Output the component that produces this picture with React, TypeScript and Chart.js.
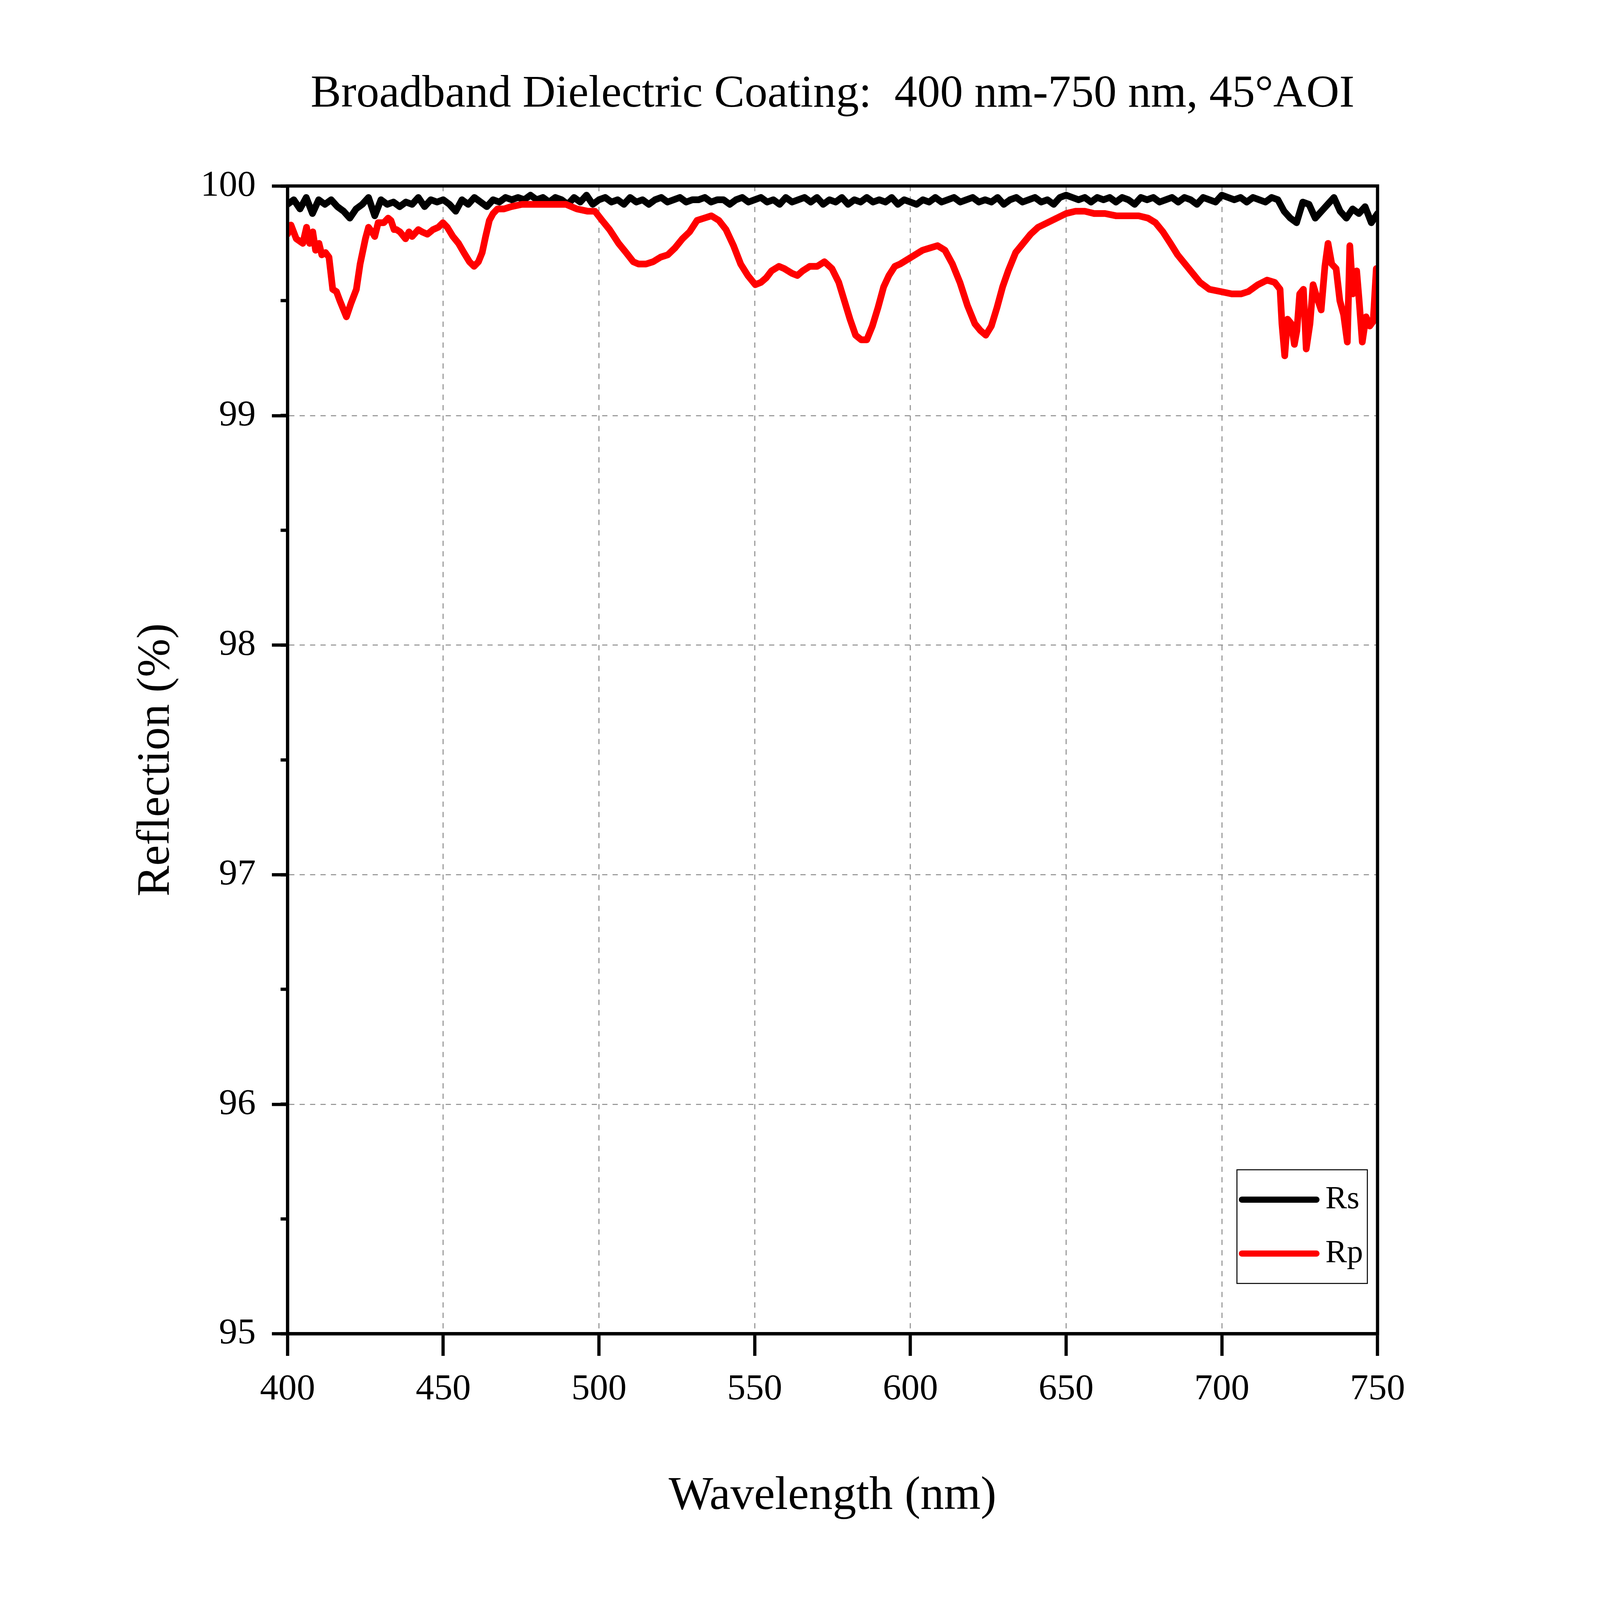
import { useEffect, useRef } from "react"
import { Chart, registerables, type Plugin } from "chart.js"

Chart.register(...registerables)

const chartTitle = "Broadband Dielectric Coating:  400 nm-750 nm, 45°AOI"
const xAxisTitle = "Wavelength (nm)"
const yAxisTitle = "Reflection (%)"
const seriesNames = ["Rs", "Rp"]
const seriesColors = ["#000000", "#ff0000"]

// Rs, every 2 nm
const rsWavelength = [
  400, 402, 404, 406, 408, 410, 412, 414, 416, 418,
  420, 422, 424, 426, 428, 430, 432, 434, 436, 438,
  440, 442, 444, 446, 448, 450, 452, 454, 456, 458,
  460, 462, 464, 466, 468, 470, 472, 474, 476, 478,
  480, 482, 484, 486, 488, 490, 492, 494, 496, 498,
  500, 502, 504, 506, 508, 510, 512, 514, 516, 518,
  520, 522, 524, 526, 528, 530, 532, 534, 536, 538,
  540, 542, 544, 546, 548, 550, 552, 554, 556, 558,
  560, 562, 564, 566, 568, 570, 572, 574, 576, 578,
  580, 582, 584, 586, 588, 590, 592, 594, 596, 598,
  600, 602, 604, 606, 608, 610, 612, 614, 616, 618,
  620, 622, 624, 626, 628, 630, 632, 634, 636, 638,
  640, 642, 644, 646, 648, 650, 652, 654, 656, 658,
  660, 662, 664, 666, 668, 670, 672, 674, 676, 678,
  680, 682, 684, 686, 688, 690, 692, 694, 696, 698,
  700, 702, 704, 706, 708, 710, 712, 714, 716, 718,
  720, 722, 724, 726, 728, 730, 732, 734, 736, 738,
  740, 742, 744, 746, 748, 750,
]
const rsReflection = [
  99.92, 99.94, 99.9, 99.95, 99.88, 99.94, 99.92, 99.94, 99.91, 99.89,
  99.86, 99.9, 99.92, 99.95, 99.87, 99.94, 99.92, 99.93, 99.91, 99.93,
  99.92, 99.95, 99.91, 99.94, 99.93, 99.94, 99.92, 99.89, 99.94, 99.92,
  99.95, 99.93, 99.91, 99.94, 99.93, 99.95, 99.94, 99.95, 99.94, 99.96,
  99.94, 99.95, 99.93, 99.95, 99.94, 99.92, 99.95, 99.93, 99.96, 99.92,
  99.94, 99.95, 99.93, 99.94, 99.92, 99.95, 99.93, 99.94, 99.92, 99.94,
  99.95, 99.93, 99.94, 99.95, 99.93, 99.94, 99.94, 99.95, 99.93, 99.94,
  99.94, 99.92, 99.94, 99.95, 99.93, 99.94, 99.95, 99.93, 99.94, 99.92,
  99.95, 99.93, 99.94, 99.95, 99.93, 99.95, 99.92, 99.94, 99.93, 99.95,
  99.92, 99.94, 99.93, 99.95, 99.93, 99.94, 99.93, 99.95, 99.92, 99.94,
  99.93, 99.92, 99.94, 99.93, 99.95, 99.93, 99.94, 99.95, 99.93, 99.94,
  99.95, 99.93, 99.94, 99.93, 99.95, 99.92, 99.94, 99.95, 99.93, 99.94,
  99.95, 99.93, 99.94, 99.92, 99.95, 99.96, 99.95, 99.94, 99.95, 99.93,
  99.95, 99.94, 99.95, 99.93, 99.95, 99.94, 99.92, 99.95, 99.94, 99.95,
  99.93, 99.94, 99.95, 99.93, 99.95, 99.94, 99.92, 99.95, 99.94, 99.93,
  99.96, 99.95, 99.94, 99.95, 99.93, 99.95, 99.94, 99.93, 99.95, 99.94,
  99.89, 99.86, 99.84, 99.93, 99.92, 99.86, 99.89, 99.92, 99.95, 99.89,
  99.86, 99.9, 99.88, 99.91, 99.84, 99.88,
]

// Rp
const rpWavelength = [
  400, 401.1, 402.8, 404.9, 406.1, 407.1, 408.1, 409, 410.1, 411,
  412.2, 413.3, 414.5, 415.7, 416.8, 418.9, 420.4, 422.1, 423.3, 425,
  426, 427.1, 428, 429.1, 430.9, 432.3, 433.2, 434.2, 435, 436.1,
  437.9, 439, 440, 442, 443.2, 444.9, 446.7, 448.4, 449.9, 451.3,
  453.1, 454.9, 456.6, 458.4, 459.9, 461.3, 462.5, 463.6, 464.8, 466,
  467.4, 469.5, 471.8, 475.3, 480, 483.5, 487, 489.4, 492.9, 496.4,
  498.7, 501, 503.4, 506.3, 508.7, 511, 512.7, 515.1, 517.4, 519.8,
  522.1, 524.4, 526.8, 529.1, 531.5, 533.8, 536.1, 538.5, 540.8, 543.2,
  545.5, 547.8, 550.2, 552, 553.7, 555.4, 557.8, 559.5, 561.9, 563.7,
  565.4, 567.7, 570.1, 572.4, 574.8, 577, 578.8, 580.6, 582.4, 584.2,
  586, 587.8, 589.6, 591.4, 593.1, 595, 596.7, 599.1, 601.5, 603.9,
  606.3, 608.7, 611.1, 613.5, 615.9, 618.3, 620.7, 622.5, 624.2, 626,
  627.8, 629.6, 631.4, 633.8, 636.2, 638.6, 641, 644, 647, 650,
  653, 656, 659, 662.5, 666.1, 669.7, 673.3, 676.3, 678.7, 681.1,
  683.5, 685.8, 688.2, 690.6, 693, 696, 699.6, 703.2, 706.2, 708.5,
  711.6, 714.5, 717, 718.7, 719.3, 720.2, 721.1, 722.3, 723.3, 724.1,
  725, 726.2, 727.1, 728.3, 729.3, 730.4, 731.9, 733.1, 734.1, 735.3,
  736.7, 737.9, 739.1, 740.3, 741.1, 742.1, 743.3, 744.1, 745.1, 746.3,
  747.5, 748.6, 749.6, 750,
]
const rpReflection = [
  99.79, 99.83, 99.77, 99.75, 99.82, 99.75, 99.8, 99.72, 99.75, 99.7,
  99.71, 99.69, 99.55, 99.54, 99.5, 99.43, 99.49, 99.55, 99.66, 99.77,
  99.82, 99.8, 99.78, 99.84, 99.84, 99.86, 99.85, 99.81, 99.81, 99.8,
  99.77, 99.8, 99.78, 99.81, 99.8, 99.79, 99.81, 99.82, 99.84, 99.82,
  99.78, 99.75, 99.71, 99.67, 99.65, 99.67, 99.71, 99.78, 99.85, 99.88,
  99.9, 99.9, 99.91, 99.92, 99.92, 99.92, 99.92, 99.92, 99.9, 99.89,
  99.89, 99.85, 99.81, 99.75, 99.71, 99.67, 99.66, 99.66, 99.67, 99.69,
  99.7, 99.73, 99.77, 99.8, 99.85, 99.86, 99.87, 99.85, 99.81, 99.74,
  99.66, 99.61, 99.57, 99.58, 99.6, 99.63, 99.65, 99.64, 99.62, 99.61,
  99.63, 99.65, 99.65, 99.67, 99.64, 99.58, 99.5, 99.42, 99.35, 99.33,
  99.33, 99.39, 99.47, 99.56, 99.61, 99.65, 99.66, 99.68, 99.7, 99.72,
  99.73, 99.74, 99.72, 99.66, 99.58, 99.48, 99.4, 99.37, 99.35, 99.39,
  99.47, 99.56, 99.63, 99.71, 99.75, 99.79, 99.82, 99.84, 99.86, 99.88,
  99.89, 99.89, 99.88, 99.88, 99.87, 99.87, 99.87, 99.86, 99.84, 99.8,
  99.75, 99.7, 99.66, 99.62, 99.58, 99.55, 99.54, 99.53, 99.53, 99.54,
  99.57, 99.59, 99.58, 99.55, 99.4, 99.26, 99.42, 99.4, 99.31, 99.37,
  99.53, 99.55, 99.29, 99.4, 99.57, 99.52, 99.46, 99.65, 99.75, 99.66,
  99.64, 99.5, 99.44, 99.32, 99.74, 99.53, 99.63, 99.5, 99.32, 99.43,
  99.39, 99.41, 99.64, 99.64,
]

const FONT = "'Liberation Serif', 'Times New Roman', serif"

// sizes below are given for a 6416 x 4907 canvas and scaled to the real one
const BASE_W = 6416
const BASE_H = 4907

export default function App() {
  const boxRef = useRef<HTMLDivElement>(null)
  const canvasRef = useRef<HTMLCanvasElement>(null)

  useEffect(() => {
    if (!canvasRef.current || !boxRef.current) return

    const sx = boxRef.current.clientWidth / BASE_W
    const sy = boxRef.current.clientHeight / BASE_H
    const s = Math.min(sx, sy)

    const rs = rsWavelength.map((x, i) => ({ x, y: rsReflection[i] }))
    const rp = rpWavelength.map((x, i) => ({ x, y: rpReflection[i] }))

    // frame around the plot area (top and right sides included)
    const framePlugin: Plugin = {
      id: "frame",
      afterDraw(chart) {
        const { ctx, chartArea } = chart
        ctx.save()
        ctx.strokeStyle = "#000"
        ctx.lineWidth = 13 * s
        ctx.strokeRect(chartArea.left, chartArea.top, chartArea.right - chartArea.left, chartArea.bottom - chartArea.top)
        ctx.restore()
      },
    }

    // title centred on the plot area rather than the canvas
    const titlePlugin: Plugin = {
      id: "plotTitle",
      afterDraw(chart) {
        const { ctx, chartArea } = chart
        ctx.save()
        ctx.font = `${184 * s}px ${FONT}`
        ctx.fillStyle = "#000"
        ctx.textAlign = "center"
        ctx.textBaseline = "alphabetic"
        ctx.fillText(chartTitle, (chartArea.left + chartArea.right) / 2, chartArea.top - 244 * sy)
        ctx.restore()
      },
    }

    // boxed legend in the lower right corner of the plot
    const legendPlugin: Plugin = {
      id: "insideLegend",
      afterDraw(chart) {
        const { ctx, chartArea } = chart
        const w = 525 * sx
        const h = 350 * sy
        const left = chartArea.right - 41 * sx - w
        const top = chartArea.bottom - 155 * sy - h
        ctx.save()
        ctx.fillStyle = "#fff"
        ctx.fillRect(left, top, w, h)
        ctx.strokeStyle = "#000"
        ctx.lineWidth = 4 * s
        ctx.strokeRect(left, top, w, h)
        ctx.font = `${130 * s}px ${FONT}`
        ctx.textBaseline = "middle"
        ctx.textAlign = "left"
        seriesNames.forEach((name, i) => {
          const y = top + (92 + i * 166) * sy
          ctx.strokeStyle = seriesColors[i]
          ctx.lineWidth = 25 * s
          ctx.lineCap = "round"
          ctx.beginPath()
          ctx.moveTo(left + 20 * sx, y)
          ctx.lineTo(left + 320 * sx, y)
          ctx.stroke()
          ctx.fillStyle = "#000"
          ctx.fillText(name, left + 356 * sx, y)
        })
        ctx.restore()
      },
    }

    const gridColor = "#8c8c8c"

    const chart = new Chart(canvasRef.current, {
      type: "line",
      data: {
        datasets: [
          {
            label: seriesNames[0],
            data: rs,
            borderColor: seriesColors[0],
            borderWidth: 27 * s,
            pointRadius: 0,
            tension: 0,
            borderJoinStyle: "round",
            borderCapStyle: "round",
            order: 1,
          },
          {
            label: seriesNames[1],
            data: rp,
            borderColor: seriesColors[1],
            borderWidth: 27 * s,
            pointRadius: 0,
            tension: 0,
            borderJoinStyle: "round",
            borderCapStyle: "round",
            order: 0,
          },
        ],
      },
      options: {
        animation: false,
        responsive: true,
        maintainAspectRatio: false,
        layout: { padding: { top: 563 * sy, right: 883 * sx, bottom: 0, left: 0 } },
        plugins: {
          legend: { display: false },
          title: { display: false },
          tooltip: { enabled: false },
        },
        scales: {
          x: {
            type: "linear",
            min: 400,
            max: 750,
            ticks: { stepSize: 50, color: "#000", font: { family: FONT, size: 148 * s }, padding: 36 * sy, maxRotation: 0 },
            grid: { color: gridColor, lineWidth: 4 * s, tickColor: "#000", tickWidth: 13 * s, tickLength: 68 * sy },
            border: { display: true, color: "#000", width: 13 * s, dash: [21 * s, 21 * s] },
            title: {
              display: true,
              text: xAxisTitle,
              color: "#000",
              font: { family: FONT, size: 190 * s },
              padding: { top: 0, bottom: 221 * sy },
            },
            afterFit: (scale) => {
              scale.height = 810 * sy
            },
          },
          y: {
            type: "linear",
            position: "left",
            weight: 1,
            min: 95,
            max: 100,
            ticks: { stepSize: 1, color: "#000", font: { family: FONT, size: 148 * s }, padding: 65 * sx },
            grid: { color: gridColor, lineWidth: 4 * s, tickColor: "#000", tickWidth: 13 * s, tickLength: 63 * sx },
            border: { display: true, color: "#000", width: 13 * s, dash: [21 * s, 21 * s] },
            title: {
              display: true,
              text: yAxisTitle,
              color: "#000",
              font: { family: FONT, size: 186 * s },
              padding: { top: 506 * sx, bottom: 0 },
            },
            afterFit: (scale) => {
              scale.width = 1145 * sx
            },
          },
          yMinor: {
            type: "linear",
            position: "left",
            weight: 0,
            min: 95,
            max: 100,
            ticks: { stepSize: 0.5, display: false },
            grid: { drawOnChartArea: false, tickColor: "#000", tickWidth: 13 * s, tickLength: 28 * sx },
            border: { display: false },
            afterFit: (scale) => {
              scale.width = 0
            },
          },
        },
      },
      plugins: [framePlugin, titlePlugin, legendPlugin],
    })

    return () => {
      chart.destroy()
    }
  }, [])

  return (
    <div ref={boxRef} style={{ width: "calc(100vw - 16px)", height: "calc(100vh - 16px)", position: "relative" }}>
      <canvas ref={canvasRef} />
    </div>
  )
}
